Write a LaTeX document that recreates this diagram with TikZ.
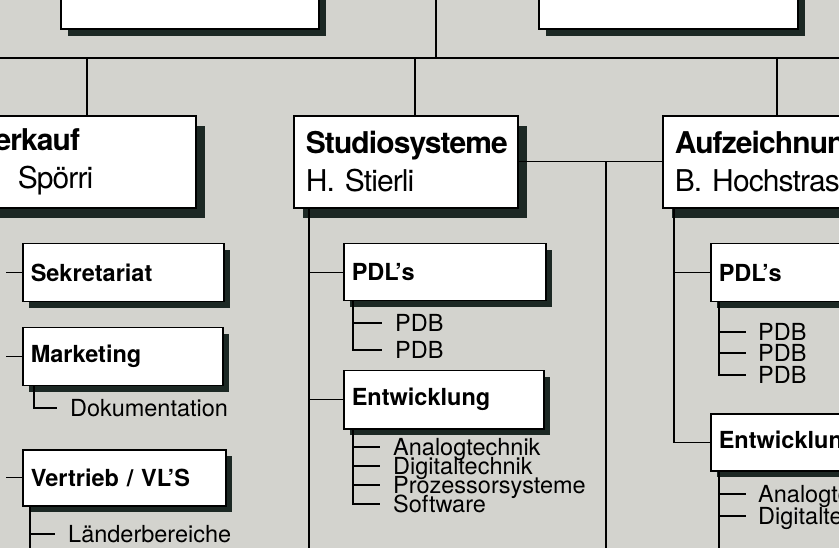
\documentclass[tikz,border=0pt]{standalone}
\usepackage{fontspec}
\setmainfont{TeX Gyre Heros}
\newfontfamily\headfont[LetterSpace=-3]{TeX Gyre Heros}
\usetikzlibrary{shadows}
\definecolor{paper}{RGB}{211,211,206}
\definecolor{shade}{RGB}{28,40,36}
\begin{document}
\begin{tikzpicture}[x=1pt, y=-1pt,
    line/.style={line width=1.3pt},
    topbox/.style={draw, line width=1.6pt, fill=white, anchor=north west, minimum height=68pt,
        drop shadow={shadow xshift=7pt, shadow yshift=-7pt, fill=shade, opacity=1}},
    head/.style={draw, line width=1.6pt, fill=white, anchor=north west, align=left,
        inner xsep=12pt, minimum height=92pt, font=\headfont\fontsize{30}{38}\selectfont,
        drop shadow={shadow xshift=9pt, shadow yshift=-10pt, fill=shade, opacity=1}},
    unit/.style={draw, line width=1.5pt, fill=white, anchor=north west, align=left,
        inner xsep=8pt, minimum height=58pt, font=\fontsize{23.5}{27}\selectfont\bfseries,
        drop shadow={shadow xshift=6pt, shadow yshift=-6pt, fill=shade, opacity=1}},
    item/.style={anchor=west, inner sep=0pt, text height=17pt, text depth=0pt,
        font=\fontsize{23.5}{24}\selectfont}]
    \clip (0,0) rectangle (839,548);
    \fill[paper] (0,0) rectangle (839,548);

    % Nodes
    \node[topbox, minimum width=258pt] (chefA) at (60,-40) {};
    \node[topbox, minimum width=259pt] (chefB) at (538,-40) {};

    \node[head, text width=207pt] (verkauf) at (-36,115) {\textbf{Verkauf}\\\hspace*{41pt}Spörri};
    \node[head, text width=200pt] (studio) at (293,115) {\textbf{Studiosysteme}\\H. Stierli};
    \node[head, text width=220pt] (aufz) at (662,115) {\textbf{Aufzeichnung}\\B. Hochstrasser};

    \node[unit, text width=185pt] (sekr) at (22,243) {Sekretariat};
    \node[unit, text width=184pt] (mark) at (22,327) {Marketing};
    \node[unit, text width=187pt, minimum height=56pt] (vertr) at (22,449) {Vertrieb / VL’S};
    \node[unit, text width=186pt, minimum height=57pt] (pdlM) at (343,243) {PDL’s};
    \node[unit, text width=184pt] (entM) at (343,370) {Entwicklung};
    \node[unit, text width=200pt] (pdlR) at (710,243) {PDL’s};
    \node[unit, text width=200pt, minimum height=57pt] (entR) at (710,413) {Entwicklung};

    \node[item] (doku) at (70,408) {Dokumentation};
    \node[item] (laender) at (68,534) {Länderbereiche};
    \node[item] (pdbM1) at (395,323) {PDB};
    \node[item] (pdbM2) at (395,350) {PDB};
    \node[item] (anaM) at (393,447) {Analogtechnik};
    \node[item] (digM) at (393,466) {Digitaltechnik};
    \node[item] (proM) at (393,485) {Prozessorsysteme};
    \node[item] (softM) at (393,504) {Software};
    \node[item] (pdbR1) at (758,332) {PDB};
    \node[item] (pdbR2) at (758,353) {PDB};
    \node[item] (pdbR3) at (758,375) {PDB};
    \node[item] (anaR) at (758,494) {Analogtechnik};
    \node[item] (digR) at (758,516) {Digitaltechnik};

    \coordinate (busL) at (0,58);
    \coordinate (busR) at (839,58);
    \coordinate (topIn) at (436,0);
    \coordinate (leftEdge) at (6,0);
    \coordinate (jnEnd) at (606,548);
    \coordinate (midEnd) at (309,548);
    \coordinate (vtEnd) at (30,548);
    \coordinate (erEnd) at (719,548);
    \coordinate (vkTop) at ([xshift=123pt]verkauf.north west);
    \coordinate (stTop) at ([xshift=122pt]studio.north west);
    \coordinate (auTop) at ([xshift=115pt]aufz.north west);
    \coordinate (auDown) at ([xshift=12pt]aufz.south west);
    \coordinate (mkDown) at ([xshift=12pt]mark.south west);
    \coordinate (pmDown) at ([xshift=10pt]pdlM.south west);
    \coordinate (emDown) at ([xshift=10pt]entM.south west);
    \coordinate (prDown) at ([xshift=9pt]pdlR.south west);

    % Edges
    \draw[line] (busL) -- (busR);
    \draw[line] (topIn) -- (topIn |- busL);
    \draw[line] (vkTop) -- (vkTop |- busL);
    \draw[line] (stTop) -- (stTop |- busL);
    \draw[line] (auTop) -- (auTop |- busL);
    \draw[line] (studio.east) -- (aufz.west);
    \draw[line] (studio.east -| jnEnd) -- (jnEnd);

    \draw[line] (sekr.west -| leftEdge) -- (sekr.west);
    \draw[line] (mark.west -| leftEdge) -- (mark.west);
    \draw[line] (vertr.west -| leftEdge) -- (vertr.west);
    \draw[line] (mkDown) |- ([xshift=-13pt]doku.west);
    \draw[line] (vertr.south -| vtEnd) -- (vtEnd);
    \draw[line] (laender.west -| vtEnd) -- ([xshift=-13pt]laender.west);

    \draw[line] ([xshift=16pt]studio.south west) -- (midEnd);
    \draw[line] (pdlM.west -| midEnd) -- (pdlM.west);
    \draw[line] (entM.west -| midEnd) -- (entM.west);
    \draw[line] (pmDown) |- ([xshift=-13pt]pdbM2.west);
    \draw[line] (pdbM1.west -| pmDown) -- ([xshift=-13pt]pdbM1.west);
    \draw[line] (emDown) |- ([xshift=-13pt]softM.west);
    \draw[line] (anaM.west -| emDown) -- ([xshift=-13pt]anaM.west);
    \draw[line] (digM.west -| emDown) -- ([xshift=-13pt]digM.west);
    \draw[line] (proM.west -| emDown) -- ([xshift=-13pt]proM.west);

    \draw[line] (auDown) |- (entR.west);
    \draw[line] (pdlR.west -| auDown) -- (pdlR.west);
    \draw[line] (prDown) |- ([xshift=-12pt]pdbR3.west);
    \draw[line] (pdbR1.west -| prDown) -- ([xshift=-12pt]pdbR1.west);
    \draw[line] (pdbR2.west -| prDown) -- ([xshift=-12pt]pdbR2.west);
    \draw[line] (entR.south -| erEnd) -- (erEnd);
    \draw[line] (anaR.west -| erEnd) -- ([xshift=-12pt]anaR.west);
    \draw[line] (digR.west -| erEnd) -- ([xshift=-12pt]digR.west);
\end{tikzpicture}
\end{document}
